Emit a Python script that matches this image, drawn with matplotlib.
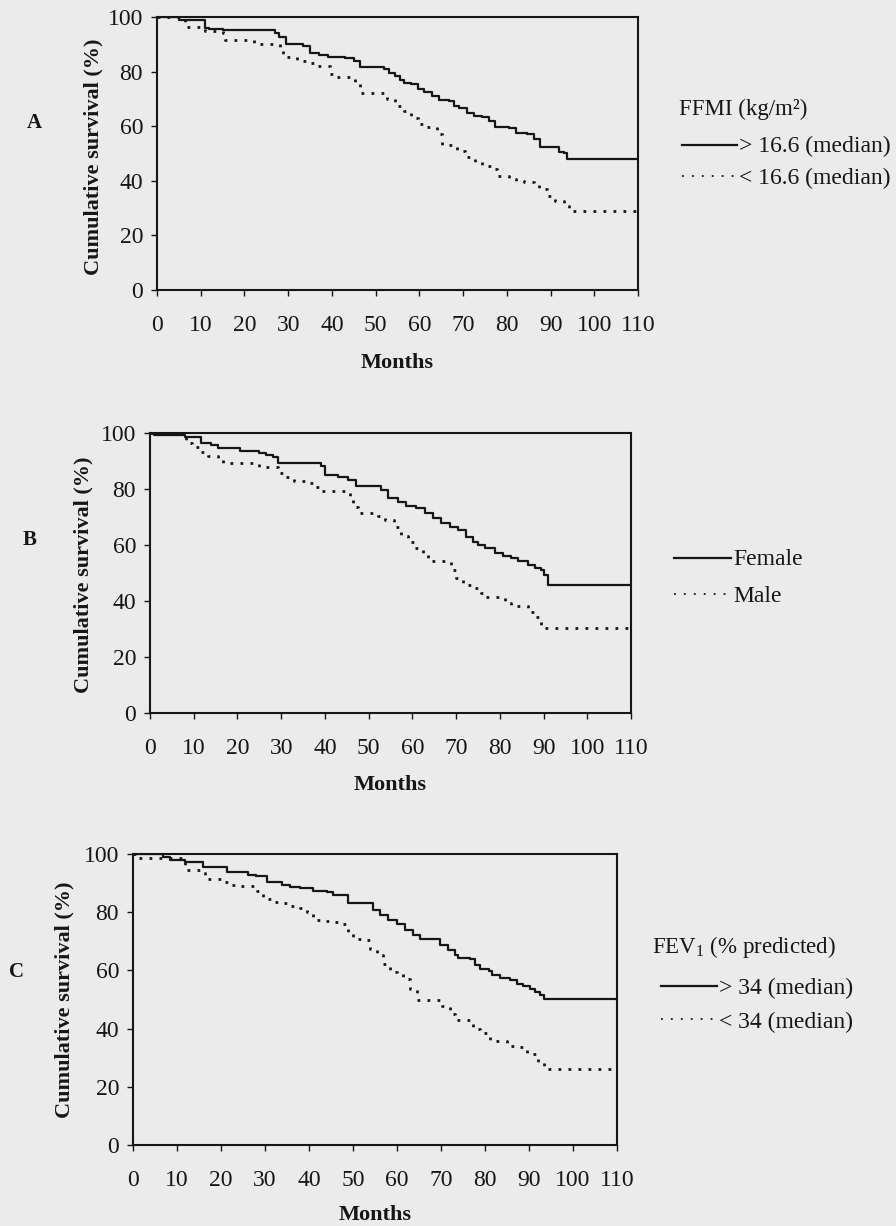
import matplotlib
matplotlib.use("Agg")
import matplotlib.pyplot as plt
from matplotlib.lines import Line2D

plt.rcParams['font.family'] = ['Liberation Serif', 'DejaVu Serif']
plt.rcParams['mathtext.fontset'] = 'custom'
plt.rcParams['mathtext.rm'] = 'Liberation Serif'

# ---------------- data ----------------
x_ticks = [0, 10, 20, 30, 40, 50, 60, 70, 80, 90, 100, 110]
y_ticks = [0, 20, 40, 60, 80, 100]

# Panel A: FFMI
a_hi_t = [0, 5, 11, 12, 15, 27, 28, 29.5, 33.5, 35, 37, 39, 43, 45, 46.5, 52, 53, 54.5, 55.5, 56.5,
          58, 59.8, 61, 63, 64.4, 66.7, 68, 69, 71, 72.4, 74.4, 76, 77.4, 80.5, 82, 84.7, 86.2,
          87.7, 90.4, 92, 93.1, 93.8, 110]
a_hi_s = [100, 98.8, 96.0, 95.6, 95.2, 94.0, 92.6, 90.0, 89.5, 86.8, 86.2, 85.5, 85.0, 84.0, 81.8,
          81.0, 79.5, 78.5, 77.0, 76.0, 75.5, 73.6, 72.5, 71.2, 69.6, 69.4, 67.5, 66.5, 65.0, 63.9,
          63.5, 62.0, 59.6, 59.4, 57.4, 57.0, 55.3, 52.5, 52.2, 50.4, 50.0, 48.0, 48.0]
a_lo_t = [0, 6.4, 11, 15.2, 15.6, 22.1, 28.2, 28.9, 29.6, 32, 34.3, 36.2, 39.6, 41.1, 43, 45.3, 46.5,
          52.6, 54.5, 56.4, 58, 59.8, 61.8, 64, 65.2, 68.6, 70.5, 72.8, 74.4, 76.3, 77.8, 80.5, 82,
          83.9, 86.2, 87.3, 89.2, 91.1, 93.1, 94.2, 110]
a_lo_s = [100, 96.5, 95.0, 94.0, 91.6, 90.1, 87.7, 85.8, 85.2, 84.0, 83.0, 82.2, 79.1, 78.1, 77.9,
          75.7, 72.0, 70.0, 67.5, 65.7, 63.0, 60.8, 59.6, 57.1, 53.1, 51.0, 48.6, 46.8, 45.5, 44.3,
          41.9, 40.7, 39.8, 39.4, 38.8, 37.0, 34.6, 32.7, 30.9, 29.1, 29.1]

# Panel B: sex
b_f_t = [0, 1, 8, 11.7, 14, 15.5, 20.5, 25, 26.6, 28.1, 29.3, 39.2, 40, 43, 45.3, 47.2, 52.9, 54.4,
         56.7, 58.6, 60.9, 62.8, 64.7, 66.6, 68.5, 70.4, 72.3, 73.9, 75, 76.5, 78.8, 80.7, 82.6,
         84.1, 86.4, 88, 89.5, 90.2, 91, 110]
b_f_s = [100, 99.3, 98.7, 96.3, 95.7, 94.5, 93.7, 93.0, 92.1, 91.3, 89.2, 88.2, 85.0, 84.4, 83.2,
         81.1, 79.6, 76.7, 75.5, 73.9, 73.1, 71.3, 69.5, 68.0, 66.5, 65.4, 63.0, 61.2, 60.0, 58.8,
         57.3, 56.1, 55.2, 54.3, 52.9, 51.7, 51.1, 49.3, 45.7, 45.7]
b_m_t = [0, 8.3, 9.5, 11.7, 13.3, 15.5, 16.7, 25, 29.3, 30.4, 33, 35.4, 37.7, 39.2, 45.7, 46.4, 47.6,
         52.1, 53.7, 55.9, 57.5, 59, 60.5, 62.4, 63.6, 68.9, 70, 71.6, 73.9, 75.8, 76.9, 81.1, 82.6,
         86.4, 88, 89.5, 110]
b_m_s = [100, 96.3, 94.9, 93.3, 91.8, 91.0, 89.4, 87.7, 85.6, 84.4, 83.0, 82.0, 80.6, 79.4, 77.3,
         73.7, 71.3, 70.4, 68.9, 66.5, 63.2, 61.2, 58.8, 56.4, 54.3, 51.1, 48.1, 45.7, 44.5, 42.7,
         41.5, 39.2, 38.2, 36.2, 34.4, 30.5, 30.5]

# Panel C: FEV1
c_hi_t = [0, 6.9, 8.4, 11.8, 16, 21.3, 26.2, 28, 30.4, 33.8, 35.7, 38, 41, 44, 45.5, 48.9, 54.6,
          56.1, 58, 59.9, 61.8, 63.7, 65.2, 69.8, 71.7, 73.2, 73.9, 76.6, 77.7, 78.9, 80.8, 81.5,
          83.4, 85.7, 87.2, 88.7, 90.2, 91.4, 92.5, 93.3, 110]
c_hi_s = [100, 98.9, 97.9, 97.4, 95.4, 93.9, 92.8, 92.4, 90.5, 89.3, 88.7, 88.2, 87.4, 86.8, 85.9,
          83.2, 80.7, 79.0, 77.2, 75.9, 74.0, 72.1, 70.9, 68.6, 66.9, 65.2, 64.4, 64.0, 61.7, 60.6,
          59.8, 58.3, 57.5, 56.6, 55.4, 54.5, 53.7, 52.5, 51.4, 50.2, 50.2]
c_lo_t = [0, 1, 11.8, 12.2, 16, 16.4, 20.9, 22.4, 24.3, 28.1, 29.6, 31.5, 33.8, 35.7, 38, 39.5, 41,
          43.3, 45.5, 47.8, 48.9, 50.1, 52.3, 53.9, 55.4, 56.9, 58.4, 59.9, 61.4, 63, 64.5, 70.2,
          72, 73.2, 77.3, 78.9, 81.1, 84.9, 87.2, 89.5, 92.1, 93.3, 110]
c_lo_s = [100, 98.5, 96.2, 94.5, 93.6, 91.3, 90.5, 89.3, 89.0, 87.4, 84.7, 83.6, 83.0, 82.1, 81.3,
          80.1, 77.2, 76.9, 76.7, 75.9, 72.6, 70.9, 70.6, 67.5, 65.2, 62.3, 59.4, 58.9, 57.1, 53.7,
          49.7, 47.9, 45.1, 42.8, 39.9, 38.4, 35.6, 34.1, 33.6, 31.3, 28.4, 26.1, 26.1]

panel_letters = ['A', 'B', 'C']
legend_titles = ['FFMI (kg/m²)', None, r'FEV$_\mathregular{1}$ (% predicted)']
legend_labels = [['> 16.6 (median)', '< 16.6 (median)'],
                 ['Female', 'Male'],
                 ['> 34 (median)', '< 34 (median)']]

# ---------------- layout ----------------
W, H = 896, 1226
BG = '#ebebeb'
INK = '#161616'
fig = plt.figure(figsize=(W / 100, H / 100), dpi=100, facecolor=BG)


def fx(x):
    return x / W


def fy(y):
    return 1 - y / H


panels = [
    dict(box=(157, 17, 638, 290), data=[(a_hi_t, a_hi_s), (a_lo_t, a_lo_s)],
         letter=(34, 123), ylab=(93, 157), months_y=363,
         title=(679, 109), leg_x=(682, 737, 739), leg_y=[(145, 146), (176, 178)]),
    dict(box=(150, 433, 631, 713), data=[(b_f_t, b_f_s), (b_m_t, b_m_s)],
         letter=(30, 540), ylab=(83, 575), months_y=785,
         title=None, leg_x=(674, 731, 733), leg_y=[(558, 560), (594, 597)]),
    dict(box=(133, 854, 617, 1145), data=[(c_hi_t, c_hi_s), (c_lo_t, c_lo_s)],
         letter=(17, 972), ylab=(64, 1000), months_y=1215,
         title=(652, 947), leg_x=(661, 717, 719), leg_y=[(986, 988), (1019, 1022)]),
]

solid_kw = dict(color=INK, lw=1.6, linestyle='-')
dot_kw = dict(color=INK, lw=2.0, linestyle=(0, (1.0, 2.6)))

for i, p in enumerate(panels):
    l, t, r, b = p['box']
    ax = fig.add_axes([fx(l), fy(b), (r - l) / W, (b - t) / H])
    ax.set_facecolor(BG)
    (t1, s1), (t2, s2) = p['data']
    ax.step(t1, s1, where='post', **solid_kw)
    ax.step(t2, s2, where='post', **dot_kw)
    ax.set_xlim(0, 110)
    ax.set_ylim(0, 100)
    ax.set_xticks(x_ticks)
    ax.set_yticks(y_ticks)
    ax.tick_params(direction='out', length=4, width=1.0, color=INK,
                   labelsize=17, labelcolor=INK)
    ax.tick_params(axis='x', pad=14)
    ax.tick_params(axis='y', pad=6)
    for sp in ax.spines.values():
        sp.set_linewidth(1.5)
        sp.set_color(INK)

    cx = (l + r) / 2
    fig.text(fx(cx), fy(p['months_y']), 'Months', ha='center', va='center',
             fontsize=16, fontweight='bold', color=INK)
    fig.text(fx(p['ylab'][0]), fy(p['ylab'][1]), 'Cumulative survival (%)',
             rotation=90, ha='center', va='center', fontsize=16,
             fontweight='bold', color=INK)
    fig.text(fx(p['letter'][0]), fy(p['letter'][1]), panel_letters[i],
             ha='center', va='center', fontsize=15, fontweight='bold', color=INK)

    if legend_titles[i] is not None:
        fig.text(fx(p['title'][0]), fy(p['title'][1]), legend_titles[i],
                 ha='left', va='center', fontsize=16.5, color=INK)
    x0, x1, xt = p['leg_x']
    styles = [dict(color=INK, lw=1.6, linestyle='-'),
              dict(color=INK, lw=1.3, linestyle=(0, (1, 4.5)))]
    for j in range(2):
        ly, ty = p['leg_y'][j]
        fig.add_artist(Line2D([fx(x0), fx(x1)], [fy(ly), fy(ly)],
                              transform=fig.transFigure, **styles[j]))
        fig.text(fx(xt), fy(ty), legend_labels[i][j], ha='left', va='center',
                 fontsize=17, color=INK)

fig.savefig('out.png', dpi=100, facecolor=BG)
